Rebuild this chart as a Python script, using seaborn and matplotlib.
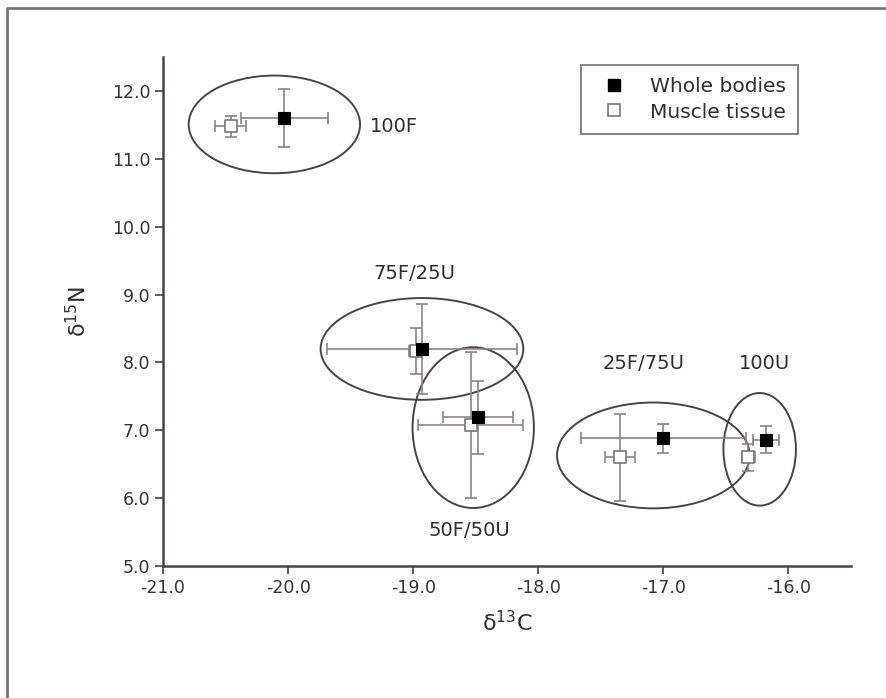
import matplotlib
matplotlib.use("Agg")
import matplotlib.pyplot as plt
from matplotlib.patches import Ellipse
from matplotlib.lines import Line2D
import seaborn as sns
import pandas as pd

sns.set_theme(style="white")
plt.rcParams['font.family'] = ['DejaVu Sans']

groups = ["100F", "75F/25U", "50F/50U", "25F/75U", "100U"]

whole_c = [-20.03, -18.93, -18.48, -17.00, -16.18]
whole_n = [11.60, 8.20, 7.19, 6.88, 6.86]
whole_c_err = [0.35, 0.76, 0.28, 0.66, 0.105]
whole_n_err = [0.43, 0.66, 0.54, 0.21, 0.20]

muscle_c = [-20.46, -18.98, -18.54, -17.35, -16.32]
muscle_n = [11.48, 8.17, 7.08, 6.60, 6.60]
muscle_c_err = [0.125, 0.05, 0.42, 0.12, 0.05]
muscle_n_err = [0.15, 0.34, 1.08, 0.64, 0.20]

ell_c = [-20.11, -18.93, -18.52, -17.08, -16.23]
ell_n = [11.51, 8.20, 7.04, 6.63, 6.72]
ell_w = [1.37, 1.62, 0.97, 1.54, 0.58]
ell_h = [1.44, 1.50, 2.37, 1.56, 1.66]

label_c = [-19.35, -18.99, -18.55, -17.16, -16.19]
label_n = [11.48, 9.31, 5.53, 7.99, 7.99]
label_ha = ["left", "center", "center", "center", "center"]

xticks = [-21.0, -20.0, -19.0, -18.0, -17.0, -16.0]
yticks = [5.0, 6.0, 7.0, 8.0, 9.0, 10.0, 11.0, 12.0]

df_w = pd.DataFrame({"c": whole_c, "n": whole_n, "kind": "Whole bodies"})
df_m = pd.DataFrame({"c": muscle_c, "n": muscle_n, "kind": "Muscle tissue"})

fig = plt.figure(figsize=(8.87, 6.98), dpi=100)
ax = fig.add_axes([0.1838, 0.1891, 0.9594 - 0.1838, 0.918 - 0.1891])

err_col = "#8c8482"
ell_col = "#4a4442"
axis_col = "#4a4442"
txt_col = "#2e2e2e"

for i in range(len(groups)):
    ax.add_patch(Ellipse((ell_c[i], ell_n[i]), ell_w[i], ell_h[i], fill=False,
                         edgecolor=ell_col, linewidth=1.4, zorder=1))

ax.errorbar(whole_c, whole_n, xerr=whole_c_err, yerr=whole_n_err, fmt='none',
            ecolor=err_col, elinewidth=1.2, capsize=4, capthick=1.2, zorder=2)
ax.errorbar(muscle_c, muscle_n, xerr=muscle_c_err, yerr=muscle_n_err, fmt='none',
            ecolor=err_col, elinewidth=1.2, capsize=4, capthick=1.2, zorder=2)

sns.scatterplot(data=df_m, x="c", y="n", ax=ax, marker="s", s=70, color="white",
                edgecolor="#777777", linewidth=1.2, zorder=3, legend=False)
sns.scatterplot(data=df_w, x="c", y="n", ax=ax, marker="s", s=70, color="black",
                edgecolor="black", linewidth=0.8, zorder=4, legend=False)

for i, g in enumerate(groups):
    ax.text(label_c[i], label_n[i], g, ha=label_ha[i], va="center",
            fontsize=14, color=txt_col)

ax.set_xlim(-21.0, -15.5)
ax.set_ylim(5.0, 12.5)
ax.set_xticks(xticks)
ax.set_yticks(yticks)
ax.set_xticklabels([f"{t:.1f}" for t in xticks])
ax.set_yticklabels([f"{t:.1f}" for t in yticks])
ax.tick_params(axis="both", direction="out", length=6, width=1.2, color=axis_col,
               labelsize=12.5, labelcolor="#333333", left=True, bottom=True, pad=3)
for s in ["top", "right"]:
    ax.spines[s].set_visible(False)
for s in ["left", "bottom"]:
    ax.spines[s].set_color(axis_col)
    ax.spines[s].set_linewidth(1.8)

ax.set_xlabel("δ$^{13}$C", fontsize=16, color=txt_col, labelpad=10)
ax.set_ylabel("δ$^{15}$N", fontsize=16, color=txt_col, labelpad=16)

handles = [
    Line2D([], [], marker="s", linestyle="none", markersize=8, markerfacecolor="black",
           markeredgecolor="black", label="Whole bodies"),
    Line2D([], [], marker="s", linestyle="none", markersize=8, markerfacecolor="white",
           markeredgecolor="#777777", markeredgewidth=1.2, label="Muscle tissue"),
]
leg = ax.legend(handles=handles, loc="upper right", bbox_to_anchor=(0.923, 0.984),
                borderaxespad=0, frameon=True, fancybox=False, fontsize=14.5,
                handletextpad=0.8, borderpad=0.6, labelspacing=0.3, handlelength=2.0)
leg.get_frame().set_edgecolor("#666666")
leg.get_frame().set_linewidth(1.4)
for t in leg.get_texts():
    t.set_color(txt_col)

fig.add_artist(Line2D([8 / 887, 1.0], [1 - 8 / 698, 1 - 8 / 698], color="#777777", linewidth=2,
                      transform=fig.transFigure))
fig.add_artist(Line2D([7 / 887, 7 / 887], [0, 1 - 8 / 698], color="#777777", linewidth=2,
                      transform=fig.transFigure))

fig.savefig("out.png", dpi=100)
